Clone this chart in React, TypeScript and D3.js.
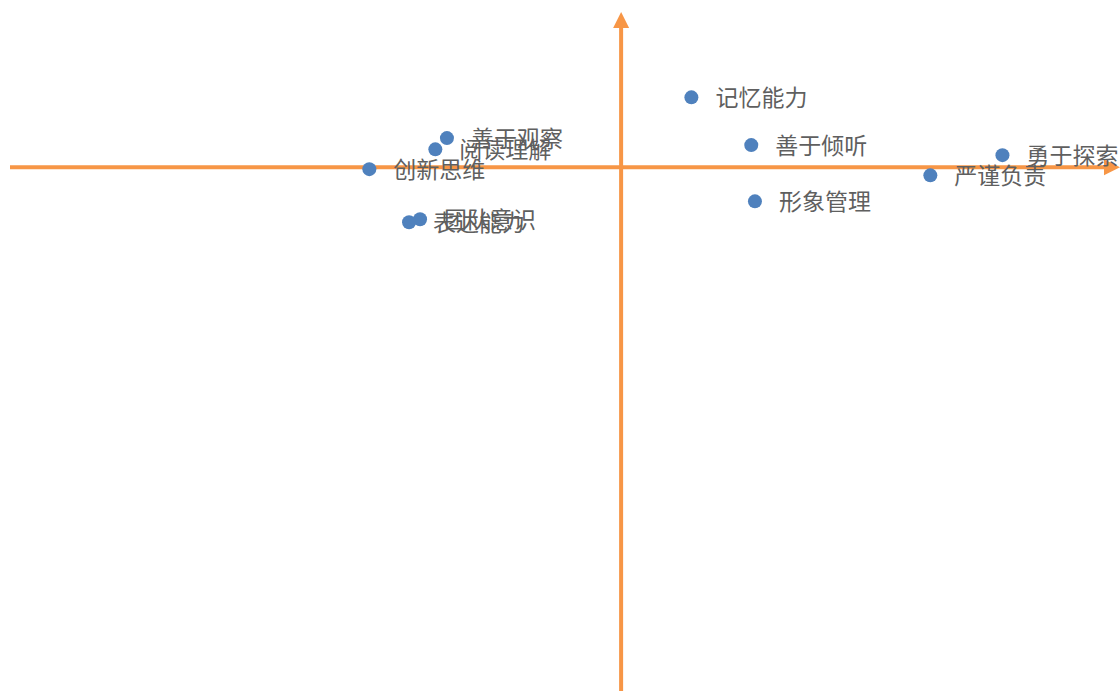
import React, { useRef, useEffect } from "react";
import * as d3 from "d3";

const labels = ["记忆能力", "善于倾听", "勇于探索", "严谨负责", "形象管理", "善于观察", "阅读理解", "创新思维", "团队意识", "表达能力"];
const xValues = [0.115, 0.213, 0.624, 0.506, 0.219, -0.285, -0.304, -0.412, -0.329, -0.347];
const yValues = [0.18, 0.057, 0.031, -0.021, -0.088, 0.075, 0.046, -0.005, -0.134, -0.142];

const W = 1120;
const H = 691;

export default function App() {
  const ref = useRef<SVGSVGElement>(null);

  useEffect(() => {
    const svg = d3.select(ref.current);
    svg.selectAll("*").remove();

    const x = d3.scaleLinear().domain([-1, 0.8]).range([10, 1110]);
    const y = d3.scaleLinear().domain([-1.35, 0.4]).range([H, 12]);

    const axisColor = "#F79646";
    const x0 = x(0);
    const y0 = y(0);

    // 横軸
    svg.append("line")
      .attr("x1", x(-1)).attr("x2", x(0.8) - 4)
      .attr("y1", y0).attr("y2", y0)
      .attr("stroke", axisColor).attr("stroke-width", 4);
    svg.append("path")
      .attr("d", `M${x(0.8) - 6},${y0 - 8} L${x(0.8) + 10},${y0} L${x(0.8) - 6},${y0 + 8} Z`)
      .attr("fill", axisColor);

    // 縦軸
    svg.append("line")
      .attr("x1", x0).attr("x2", x0)
      .attr("y1", y(-1.35)).attr("y2", y(0.4) + 14)
      .attr("stroke", axisColor).attr("stroke-width", 4);
    svg.append("path")
      .attr("d", `M${x0 - 8},${y(0.4) + 16} L${x0},${y(0.4)} L${x0 + 8},${y(0.4) + 16} Z`)
      .attr("fill", axisColor);

    const data = labels.map((l, i) => ({ l, x: xValues[i], y: yValues[i] }));

    svg.selectAll(".pt")
      .data(data)
      .enter()
      .append("circle")
      .attr("class", "pt")
      .attr("cx", d => x(d.x))
      .attr("cy", d => y(d.y))
      .attr("r", 7)
      .attr("fill", "#4F81BD");

    // ラベル（元図と同じく重なりあり）
    svg.selectAll(".lbl")
      .data(data)
      .enter()
      .append("text")
      .attr("class", "lbl")
      .attr("x", d => x(d.x) + 24)
      .attr("y", d => y(d.y) - 1)
      .attr("dominant-baseline", "central")
      .attr("font-family", "'Noto Sans CJK SC', sans-serif")
      .attr("font-size", 23)
      .attr("fill", "#5f5f5f")
      .text(d => d.l);
  }, []);

  return (
    <svg
      ref={ref}
      width={W}
      height={H}
      style={{ position: "absolute", left: 0, top: 0, display: "block" }}
    />
  );
}
